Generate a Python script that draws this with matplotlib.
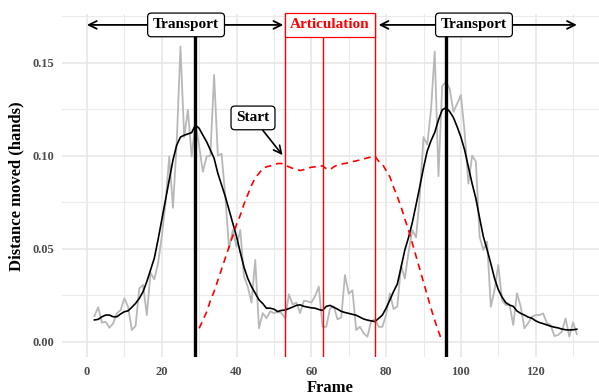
import numpy as np
import matplotlib
matplotlib.use("Agg")
import matplotlib.pyplot as plt
from matplotlib.ticker import MultipleLocator, FormatStrFormatter

plt.rcParams["font.family"] = ["Liberation Serif", "DejaVu Serif"]
plt.rcParams["font.weight"] = "bold"

# raw distance per frame (grey) and smoothed (black), frames 2..131
frames = np.arange(2, 132)
raw_dist = [
    0.0138, 0.0185, 0.0102, 0.0107, 0.0075, 0.0098, 0.0153, 0.0170, 0.0233, 0.0188,
    0.0063, 0.0085, 0.0287, 0.0305, 0.0143, 0.0370, 0.0335, 0.0420, 0.0565, 0.0745,
    0.0995, 0.0720, 0.1070, 0.1586, 0.1100, 0.1246, 0.0995, 0.1180, 0.1050, 0.0914,
    0.0995, 0.1000, 0.1434, 0.1000, 0.1010, 0.0780, 0.0500, 0.0600, 0.0510, 0.0600,
    0.0350, 0.0296, 0.0210, 0.0439, 0.0072, 0.0154, 0.0126, 0.0163, 0.0154, 0.0160,
    0.0154, 0.0126, 0.0255, 0.0200, 0.0210, 0.0154, 0.0220, 0.0217, 0.0210, 0.0245,
    0.0296, 0.0080, 0.0080, 0.0178, 0.0190, 0.0120, 0.0130, 0.0358, 0.0258, 0.0276,
    0.0063, 0.0080, 0.0045, 0.0027, 0.0110, 0.0120, 0.0080, 0.0080, 0.0145, 0.0260,
    0.0175, 0.0190, 0.0410, 0.0340, 0.0480, 0.0600, 0.0560, 0.0780, 0.1100, 0.1060,
    0.1246, 0.1560, 0.0890, 0.1375, 0.1396, 0.1360, 0.1236, 0.1280, 0.1326, 0.1125,
    0.0850, 0.1000, 0.0969, 0.0565, 0.0493, 0.0538, 0.0188, 0.0278, 0.0412, 0.0224,
    0.0197, 0.0200, 0.0090, 0.0260, 0.0188, 0.0072, 0.0100, 0.0134, 0.0143, 0.0143,
    0.0152, 0.0100, 0.0090, 0.0030, 0.0036, 0.0054, 0.0125, 0.0027, 0.0104, 0.0041,
]
smooth_dist = [
    0.0117, 0.0120, 0.0134, 0.0143, 0.0143, 0.0134, 0.0134, 0.0149, 0.0161, 0.0166,
    0.0185, 0.0206, 0.0233, 0.0269, 0.0323, 0.0385, 0.0448, 0.0547, 0.0654, 0.0762,
    0.0870, 0.0977, 0.1057, 0.1100, 0.1110, 0.1117, 0.1124, 0.1165, 0.1147, 0.1110,
    0.1075, 0.1030, 0.0986, 0.0905, 0.0842, 0.0780, 0.0708, 0.0637, 0.0565, 0.0480,
    0.0400, 0.0340, 0.0296, 0.0260, 0.0225, 0.0205, 0.0180, 0.0180, 0.0175, 0.0162,
    0.0168, 0.0170, 0.0178, 0.0186, 0.0195, 0.0198, 0.0190, 0.0186, 0.0182, 0.0180,
    0.0173, 0.0168, 0.0190, 0.0195, 0.0185, 0.0175, 0.0163, 0.0157, 0.0152, 0.0147,
    0.0142, 0.0132, 0.0122, 0.0116, 0.0112, 0.0108, 0.0125, 0.0143, 0.0180, 0.0224,
    0.0270, 0.0310, 0.0400, 0.0493, 0.0560, 0.0640, 0.0735, 0.0833, 0.0935, 0.1025,
    0.1080, 0.1125, 0.1192, 0.1246, 0.1258, 0.1237, 0.1205, 0.1155, 0.1100, 0.1030,
    0.0940, 0.0850, 0.0770, 0.0665, 0.0565, 0.0495, 0.0420, 0.0340, 0.0280, 0.0240,
    0.0210, 0.0197, 0.0190, 0.0165, 0.0152, 0.0143, 0.0132, 0.0126, 0.0112, 0.0103,
    0.0097, 0.0090, 0.0083, 0.0078, 0.0074, 0.0068, 0.0064, 0.0063, 0.0064, 0.0067,
]

# articulation curve (red dashed), frames 30..95
artic_frames = np.arange(30, 96)
artic_dist = [
    0.0072, 0.0115, 0.0160, 0.0220, 0.0270, 0.0330, 0.0390, 0.0450, 0.0510, 0.0570,
    0.0630, 0.0680, 0.0740, 0.0790, 0.0840, 0.0880, 0.0905, 0.0930, 0.0940, 0.0945,
    0.0950, 0.0958, 0.0958, 0.0950, 0.0940, 0.0932, 0.0927, 0.0920, 0.0925, 0.0932,
    0.0938, 0.0940, 0.0943, 0.0945, 0.0930, 0.0925, 0.0940, 0.0950, 0.0955, 0.0958,
    0.0962, 0.0968, 0.0972, 0.0977, 0.0982, 0.0988, 0.0993, 0.0998, 0.0970, 0.0955,
    0.0920, 0.0887, 0.0830, 0.0780, 0.0725, 0.0660, 0.0600, 0.0530, 0.0460, 0.0390,
    0.0320, 0.0250, 0.0180, 0.0115, 0.0055, 0.0000,
]

peak_frames = [29, 96]
artic_bounds = [53, 63, 77]
transport_spans = [(0, 52.5), (78, 131)]
transport_label_x = [26.5, 103.5]
artic_label_x = 65
band_y = 0.1703
start_xy = (52.3, 0.1003)
start_text_xy = (44.4, 0.1203)

fig = plt.figure(figsize=(5.99, 3.92), dpi=100)
ax = fig.add_axes([0.1043, 0.0885, 0.8955, 0.875])

ax.plot(frames, raw_dist, color="#b8b8b8", lw=1.3, zorder=2)
ax.plot(frames, smooth_dist, color="black", lw=1.2, zorder=3)
ax.plot(artic_frames, artic_dist, color="red", lw=1.2, ls=(0, (4, 3)), zorder=3)

for f in peak_frames:
    ax.axvline(f, color="black", lw=2.4, zorder=4)
for f in artic_bounds:
    ax.axvline(f, color="red", lw=1.0, zorder=4)

for (x0, x1), lx in zip(transport_spans, transport_label_x):
    ax.annotate("", xy=(x0, band_y), xytext=(x1, band_y),
                arrowprops=dict(arrowstyle="<->", lw=1.3, color="black",
                                shrinkA=0, shrinkB=0, mutation_scale=14),
                zorder=5)
    ax.text(lx, band_y, "Transport", ha="center", va="center", fontsize=11,
            fontweight="bold", color="black", zorder=6,
            bbox=dict(boxstyle="round,pad=0.35,rounding_size=0.25", fc="white", ec="black", lw=0.9))

ax.text(artic_label_x, band_y, "Articulation", ha="center", va="center", fontsize=11,
        fontweight="bold", color="red", zorder=6,
        bbox=dict(boxstyle="square,pad=0.35", fc="white", ec="red", lw=0.9))

ax.annotate("Start", xy=start_xy, xytext=start_text_xy, ha="center", va="center",
            fontsize=11, fontweight="bold", zorder=6,
            bbox=dict(boxstyle="round,pad=0.35,rounding_size=0.25", fc="white", ec="black", lw=0.9),
            arrowprops=dict(arrowstyle="->", lw=1.2, color="black", shrinkA=0, shrinkB=0,
                            mutation_scale=14))

ax.set_xlim(-6.55, 136.9)
ax.set_ylim(-0.0084, 0.176)
ax.xaxis.set_major_locator(MultipleLocator(20))
ax.xaxis.set_minor_locator(MultipleLocator(10))
ax.yaxis.set_major_locator(MultipleLocator(0.05))
ax.yaxis.set_minor_locator(MultipleLocator(0.025))
ax.yaxis.set_major_formatter(FormatStrFormatter("%.2f"))
ax.grid(True, which="major", color="#e6e6e6", lw=1.1, zorder=0)
ax.grid(True, which="minor", color="#ebebeb", lw=0.8, zorder=0)
ax.set_axisbelow(True)
for s in ax.spines.values():
    s.set_visible(False)
ax.tick_params(which="both", length=0)
ax.tick_params(axis="x", pad=6, labelsize=9, labelcolor="#4d4d4d")
ax.tick_params(axis="y", pad=6, labelsize=9, labelcolor="#4d4d4d")
for lab in ax.get_xticklabels() + ax.get_yticklabels():
    lab.set_fontweight("bold")

ax.set_xlabel("Frame", fontsize=12, fontweight="bold", labelpad=2)
ax.set_ylabel("Distance moved (hands)", fontsize=12, fontweight="bold", labelpad=6)

fig.savefig("out.png", dpi=100)
